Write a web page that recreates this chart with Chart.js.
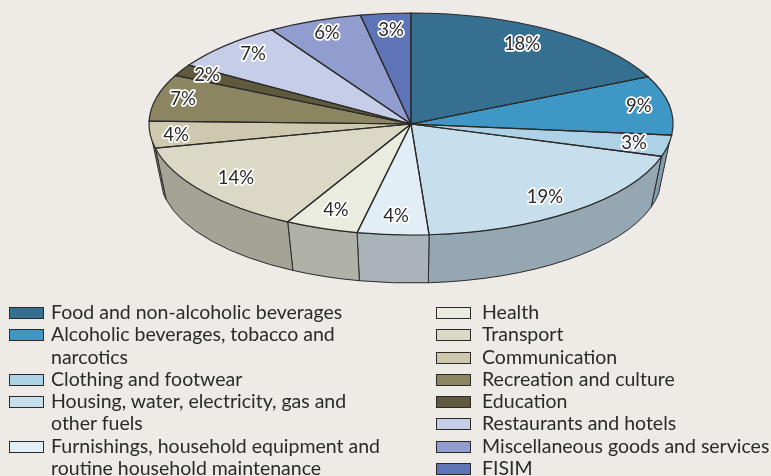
<!DOCTYPE html>
<html>
<head>
<meta charset="utf-8">
<script src="https://cdn.jsdelivr.net/npm/chart.js@4"></script>
<style>
html, body { margin: 0; padding: 0; background: #eeeae6; overflow: hidden; }
#wrap { position: relative; width: 771px; height: 476px; }
canvas { position: absolute; left: 0; top: 0; }
.col { position: absolute; top: 301px; font: 19.5px/22.3px Lato, sans-serif; color: #2b2a29; }
.item { position: relative; }
.item i { position: absolute; left: 0; top: 6px; width: 33px; height: 10px; border: 1px solid #2b2a29; }
#legendLeft .item { padding-left: 42px; }
#legendRight .item { padding-left: 46px; }
</style>
</head>
<body>
<div id="wrap">
  <canvas id="pieChart" width="771" height="476"></canvas>
  <div class="col" id="legendLeft" style="left:9px;width:378px"></div>
  <div class="col" id="legendRight" style="left:436px;width:340px"></div>
</div>
<script>
const categories = [
    "Food and non-alcoholic beverages",
    "Alcoholic beverages, tobacco and narcotics",
    "Clothing and footwear",
    "Housing, water, electricity, gas and other fuels",
    "Furnishings, household equipment and routine household maintenance",
    "Health",
    "Transport",
    "Communication",
    "Recreation and culture",
    "Education",
    "Restaurants and hotels",
    "Miscellaneous goods and services",
    "FISIM"
];
const shares = [18, 8.6, 3.1, 19.2, 4.4, 4.5, 13.7, 3.9, 6.8, 1.7, 7.2, 5.8, 3.1];
const percentLabels = ["18%", "9%", "3%", "19%", "4%", "4%", "14%", "4%", "7%", "2%", "7%", "6%", "3%"];

const colors = ["#357090", "#3f97c5", "#add2e6", "#c7dfed", "#e1eef5", "#eaecdf", "#dbd9c6",
                "#cdc8ae", "#8c8562", "#5f5a3d", "#c5cde8", "#919dcf", "#5f74b6"];
// where each label sits: fraction of the radius, fraction along the slice
const labelRadius = [.836, .885, .868, .833, .831, .826, .826, .902, .899, .895, .873, .88, .85];
const labelAlong = [.47, .47, .5, .51, .5, .52, .525, .45, .535, .59, .55, .51, .54];
const leftCount = 5;

const inkColor = "#2b2a29";
const top3d = { x: 411, y: 124, rx: 262, ry: 111 };
const bottom3d = { x: 411, y: 176, rx: 251, ry: 107 };
const sideInset = 0.166;  // wall starts a little below the widest point because of the perspective

function darken(hex, f) {
    const n = parseInt(hex.slice(1), 16);
    return `rgb(${(n >> 16) * f}, ${((n >> 8) & 255) * f}, ${(n & 255) * f})`;
}

function drawWalls(ctx, arcs) {
    arcs.forEach((arc, i) => {
        // canvas angles can run past 2PI, the front half is 0..PI
        const a0 = Math.max(arc.startAngle, sideInset);
        const a1 = Math.min(arc.endAngle, Math.PI - sideInset);
        if (a1 <= a0) return;
        ctx.beginPath();
        ctx.ellipse(top3d.x, top3d.y, top3d.rx, top3d.ry, 0, a0, a1);
        ctx.ellipse(bottom3d.x, bottom3d.y, bottom3d.rx, bottom3d.ry, 0, a1, a0, true);
        ctx.closePath();
        ctx.fillStyle = darken(colors[i], 0.75);
        ctx.fill();
        ctx.lineWidth = 1;
        ctx.strokeStyle = inkColor;
        ctx.stroke();
    });
}

function drawOutlines(ctx, arcs) {
    ctx.lineWidth = 1.2;
    ctx.strokeStyle = inkColor;
    arcs.forEach(arc => {
        ctx.beginPath();
        ctx.moveTo(top3d.x, top3d.y);
        ctx.ellipse(top3d.x, top3d.y, top3d.rx, top3d.ry, 0, arc.startAngle, arc.endAngle);
        ctx.closePath();
        ctx.stroke();
    });
}

function drawLabels(ctx, arcs) {
    ctx.font = "18.5px Lato, sans-serif";
    ctx.textAlign = "center";
    ctx.textBaseline = "middle";
    ctx.lineJoin = "round";
    arcs.forEach((arc, i) => {
        const a = arc.startAngle + (arc.endAngle - arc.startAngle) * labelAlong[i];
        const x = top3d.x + Math.cos(a) * top3d.rx * labelRadius[i];
        const y = top3d.y + Math.sin(a) * top3d.ry * labelRadius[i];
        ctx.lineWidth = 3.5;
        ctx.strokeStyle = "#ffffff";
        ctx.strokeText(percentLabels[i], x, y);
        ctx.fillStyle = inkColor;
        ctx.fillText(percentLabels[i], x, y);
    });
}

// Squashes the library's pie into the top face and adds the walls around it
const pie3d = {
    id: "pie3d",
    beforeDatasetsDraw(chart) {
        const ctx = chart.ctx;
        const arcs = chart.getDatasetMeta(0).data;
        drawWalls(ctx, arcs);
        const first = arcs[0];
        ctx.save();
        ctx.translate(top3d.x, top3d.y);
        ctx.scale(top3d.rx / first.outerRadius, top3d.ry / first.outerRadius);
        ctx.translate(-first.x, -first.y);
    },
    afterDatasetsDraw(chart) {
        const ctx = chart.ctx;
        const arcs = chart.getDatasetMeta(0).data;
        ctx.restore();
        drawOutlines(ctx, arcs);
        drawLabels(ctx, arcs);
    }
};

new Chart(document.getElementById("pieChart"), {
    type: "pie",
    data: {
        labels: categories,
        datasets: [{
            data: shares,
            backgroundColor: colors,
            borderWidth: 0,
            clip: false
        }]
    },
    options: {
        responsive: false,
        animation: false,
        events: [],
        plugins: { legend: { display: false }, tooltip: { enabled: false } }
    },
    plugins: [pie3d]
});

// Legend in two columns, the first five categories go left
categories.forEach((name, i) => {
    const row = document.createElement("div");
    row.className = "item";
    row.textContent = name;
    const swatch = document.createElement("i");
    swatch.style.background = colors[i];
    row.prepend(swatch);
    document.getElementById(i < leftCount ? "legendLeft" : "legendRight").appendChild(row);
});
</script>
</body>
</html>
